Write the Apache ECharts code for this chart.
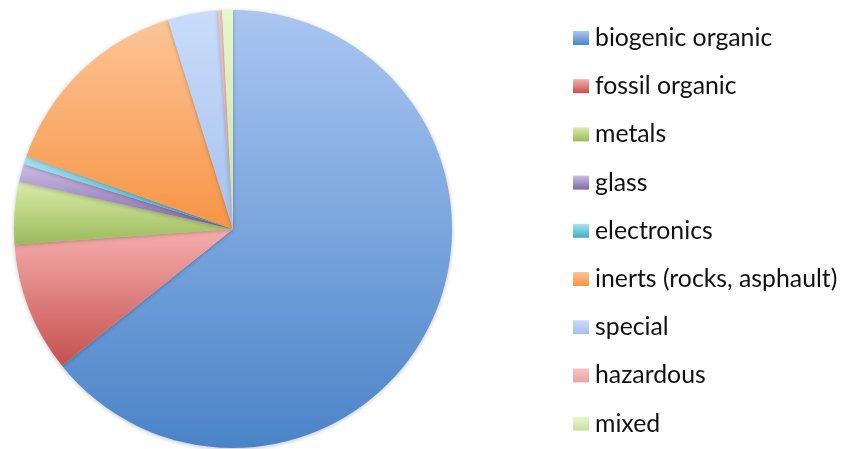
<!DOCTYPE html>
<html><head><meta charset="utf-8">
<script src="https://cdn.jsdelivr.net/npm/echarts@6/dist/echarts.min.js"></script>
<style>html,body{margin:0;padding:0;background:#fff}#c{width:843px;height:449px}</style>
</head><body><div id="c"></div>
<script>
const categories = ['biogenic organic','fossil organic','metals','glass','electronics','inerts (rocks, asphault)','special','hazardous','mixed'];
const values = [64.2, 9.6, 4.6, 1.3, 0.6, 14.8, 3.7, 0.3, 0.8];
const lightColors = ['#aac6f2','#f6aeac','#d9ecab','#cbbde6','#a8e4f5','#fcc597','#c9dcfa','#f8c6c5','#e8f7cc'];
const darkColors  = ['#4a84c8','#c4514e','#9bbb59','#8166a4','#46aac5','#f79444','#a6c1ec','#e7a3a2','#c8e0a4'];

const chart = echarts.init(document.getElementById('c'));
const data = categories.map((n, i) => ({
  name: n, value: values[i],
  itemStyle: { color: new echarts.graphic.LinearGradient(0, 0, 0, 1, [
    { offset: 0, color: lightColors[i] }, { offset: 1, color: darkColors[i] }]) }
}));
chart.setOption({
  animation: false,
  legend: {
    orient: 'vertical', left: 573, top: 25.5, padding: 0,
    itemWidth: 16, itemHeight: 14, itemGap: 23.2,
    icon: 'rect',
    textStyle: { fontFamily: 'Lato', fontSize: 24.8, lineHeight: 25, color: '#111', padding: [0,0,0,1] },
    data: categories
  },
  series: [{
    type: 'pie', center: [233, 229], radius: 219, startAngle: 90, clockwise: true,
    label: { show: false }, labelLine: { show: false },
    itemStyle: { shadowBlur: 4, shadowColor: 'rgba(0,0,0,0.25)', shadowOffsetX: 0, shadowOffsetY: 1 },
    emphasis: { disabled: true },
    data: data
  }]
});
</script></body></html>
